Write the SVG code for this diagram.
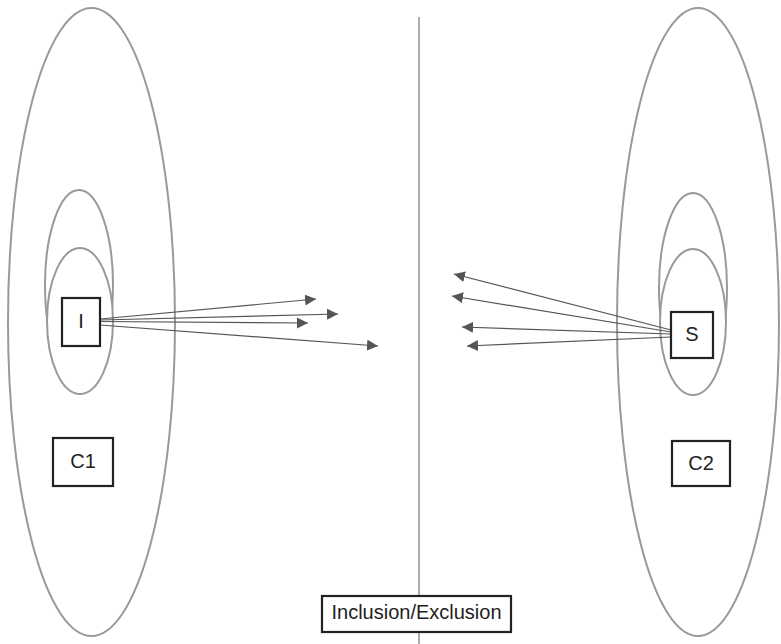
<svg xmlns="http://www.w3.org/2000/svg" width="781" height="644" viewBox="0 0 781 644">
<style>
.ell{fill:none;stroke:#999;stroke-width:2}
.ellw{fill:#fff;stroke:#999;stroke-width:2}
.box{fill:#fff;stroke:#222;stroke-width:2.2}
.lbl{font-family:"Liberation Sans",Arial,sans-serif;font-size:20px;fill:#222;text-anchor:middle;dominant-baseline:central}
.arr{stroke:#555;stroke-width:1.2;fill:none;marker-end:url(#ah)}
</style>
<defs>
<marker id="ah" markerUnits="userSpaceOnUse" markerWidth="12" markerHeight="12" refX="11" refY="5.5" orient="auto">
<path d="M0,0 L11,5.5 L0,11 z" fill="#555"/>
</marker>
</defs>
<line x1="419" y1="17" x2="419" y2="644" stroke="#999" stroke-width="1.6"/>
<g id="C1-region">
<ellipse class="ell" cx="91.5" cy="322" rx="83.5" ry="314"/>
<ellipse class="ell" cx="79" cy="285" rx="34" ry="95"/>
<ellipse class="ellw" cx="80" cy="321" rx="33" ry="73"/>
</g>
<g id="C2-region">
<ellipse class="ell" cx="698" cy="322" rx="81" ry="314"/>
<ellipse class="ell" cx="693" cy="288" rx="34" ry="95"/>
<ellipse class="ellw" cx="693" cy="322" rx="33" ry="73"/>
</g>
<g id="connectors">
<line class="arr" x1="100" y1="319" x2="316" y2="299"/>
<line class="arr" x1="100" y1="320" x2="338" y2="314"/>
<line class="arr" x1="100" y1="321.5" x2="308" y2="323"/>
<line class="arr" x1="100" y1="325" x2="378" y2="346"/>
<line class="arr" x1="671" y1="330" x2="454" y2="274"/>
<line class="arr" x1="671" y1="332" x2="452" y2="296"/>
<line class="arr" x1="671" y1="334" x2="462" y2="327"/>
<line class="arr" x1="671" y1="337" x2="467" y2="346"/>
</g>
<g id="I">
<rect class="box" x="62" y="298" width="38" height="48"/>
<text class="lbl" x="81" y="321">I</text>
</g>
<g id="S">
<rect class="box" x="671" y="312" width="42" height="46"/>
<text class="lbl" x="692" y="334">S</text>
</g>
<g id="C1">
<rect class="box" x="53" y="438" width="60" height="48"/>
<text class="lbl" x="83" y="461">C1</text>
</g>
<g id="C2">
<rect class="box" x="672" y="441" width="58" height="45"/>
<text class="lbl" x="701" y="463">C2</text>
</g>
<g id="InclusionExclusion">
<rect class="box" x="322" y="596" width="189" height="36"/>
<text class="lbl" x="416.5" y="612">Inclusion/Exclusion</text>
</g>
</svg>
